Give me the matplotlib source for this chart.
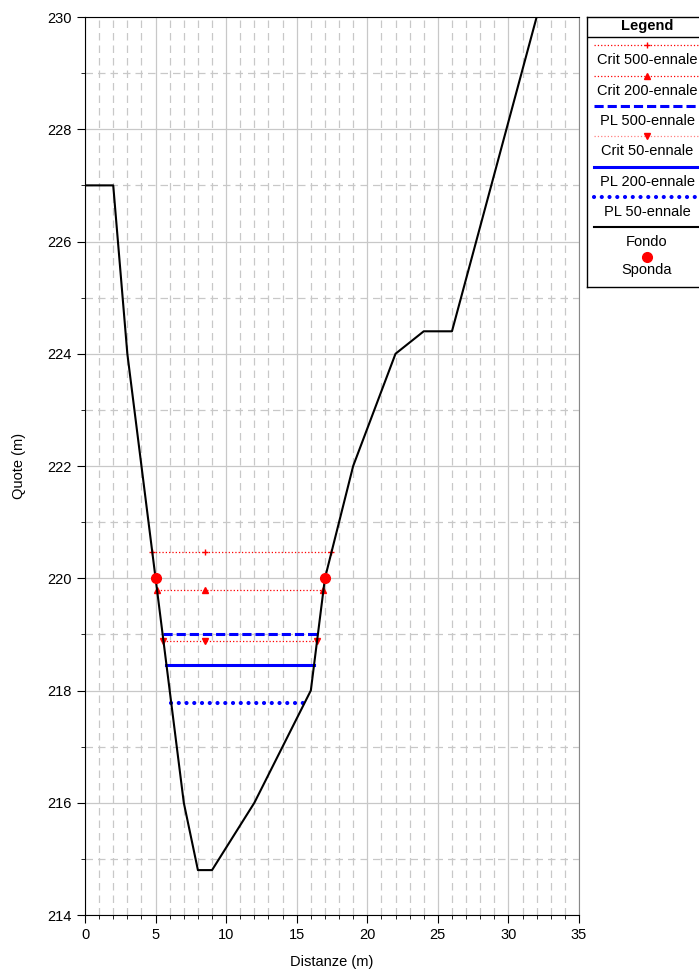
import numpy as np
import matplotlib
matplotlib.use("Agg")
import matplotlib.pyplot as plt
from matplotlib.ticker import MultipleLocator

plt.rcParams['font.family'] = ['Liberation Sans', 'DejaVu Sans']

# cross section (fondo)
dist = [0, 2, 3, 5, 7, 8, 9, 12, 16, 17, 19, 22, 24, 26, 32, 33]
quote = [227, 227, 224, 220, 216, 214.8, 214.8, 216, 218, 220, 222, 224, 224.4, 224.4, 230, 231.2]

# banks (sponda)
sponda_x = [5, 17]
sponda_y = [220, 220]

# water levels
pl_names = ["PL 500-ennale", "PL 200-ennale", "PL 50-ennale"]
pl_levels = [219.01, 218.46, 217.77]
pl_styles = ["--", "-", ":"]

crit_names = ["Crit 500-ennale", "Crit 200-ennale", "Crit 50-ennale"]
crit_levels = [220.46, 219.79, 218.88]
crit_markers = ["+", "^", "v"]
crit_mid = 8.5

dist = np.array(dist)
quote = np.array(quote)
i_min = np.argmin(quote)

DASH = (0, (3.0, 1.3))
DOT = (0, (0.01, 1.85))


def banks(level):
    # intersection of a level with left and right side of the section
    lx, ly = dist[:i_min + 1][::-1], quote[:i_min + 1][::-1]
    rx, ry = dist[i_min + 1:], quote[i_min + 1:]
    return np.interp(level, ly, lx), np.interp(level, ry, rx)


fig = plt.figure(figsize=(6.99, 9.71), dpi=100)
ax = fig.add_axes([85 / 699, 56 / 971, 494 / 699, 898 / 971])

ax.plot(dist, quote, color="black", lw=1.5, zorder=5)

for name, lev, mk in zip(crit_names, crit_levels, crit_markers):
    xl, xr = banks(lev)
    ax.plot([xl, crit_mid, xr], [lev, lev, lev], color="red", ls=":", lw=0.9,
            marker=mk, ms=5, mew=1.0, zorder=4)

for name, lev, st in zip(pl_names, pl_levels, pl_styles):
    xl, xr = banks(lev)
    if st == ":":
        ax.plot([xl, xr], [lev, lev], color="blue", lw=3.0, ls=DOT,
                dash_capstyle="round", zorder=4)
    elif st == "--":
        ax.plot([xl, xr], [lev, lev], color="blue", lw=2.2, ls=DASH, zorder=4)
    else:
        ax.plot([xl, xr], [lev, lev], color="blue", lw=2.2, zorder=4)

ax.plot(sponda_x, sponda_y, "o", color="red", ms=7, zorder=6)

ax.set_xlim(0, 35)
ax.set_ylim(214, 230)
ax.xaxis.set_major_locator(MultipleLocator(5))
ax.xaxis.set_minor_locator(MultipleLocator(1))
ax.yaxis.set_major_locator(MultipleLocator(2))
ax.yaxis.set_minor_locator(MultipleLocator(1))
ax.grid(which="major", color="#c8c8c8", lw=0.9, ls="-")
ax.grid(which="minor", color="#c8c8c8", lw=0.9, ls=(0, (6, 4)))
ax.set_axisbelow(True)
ax.tick_params(which="major", direction="out", length=6, labelsize=10.5)
ax.tick_params(which="minor", direction="out", length=3)
ax.spines["right"].set_color("#888888")
ax.set_xlabel("Distanze (m)", fontsize=10.5, labelpad=9)
ax.set_ylabel("Quote (m)", fontsize=10.5, labelpad=15)

# legend panel drawn by hand (entries stacked: sample line, then label)
leg = fig.add_axes([587 / 699, (971 - 287) / 971, 0.3, 270 / 971])
leg.set_xlim(587, 587 + 0.3 * 699)
leg.set_ylim(287, 17)
leg.set_xticks([])
leg.set_yticks([])
for s in leg.spines.values():
    s.set_linewidth(1.0)
leg.text(647, 26, "Legend", ha="center", va="center", fontsize=10.5, fontweight="bold")
leg.plot([587, 800], [37, 37], color="black", lw=1)

x0, x1, xc = 594, 800, 647
entries = [
    ("Crit 500-ennale", dict(color="red", ls=":", lw=0.9), "+"),
    ("Crit 200-ennale", dict(color="red", ls=":", lw=0.9), "^"),
    ("PL 500-ennale", dict(color="blue", ls=DASH, lw=2.2), None),
    ("Crit 50-ennale", dict(color="#ff8080", ls=":", lw=0.9), "v"),
    ("PL 200-ennale", dict(color="blue", ls="-", lw=2.2), None),
    ("PL 50-ennale", dict(color="blue", ls=DOT, lw=3.0, dash_capstyle="round"), None),
    ("Fondo", dict(color="black", ls="-", lw=1.5), None),
]
y = 45.5
for label, kw, mk in entries:
    leg.plot([x0, x1], [y, y], **kw)
    if mk:
        leg.plot([xc], [y], marker=mk, color="red", ms=5, mew=1.0)
    leg.text(xc, y + 15, label, ha="center", va="center", fontsize=10.5)
    y += 30.3
leg.plot([xc], [257], "o", color="red", ms=7)
leg.text(xc, 270, "Sponda", ha="center", va="center", fontsize=10.5)

fig.savefig("out.png", dpi=100)
